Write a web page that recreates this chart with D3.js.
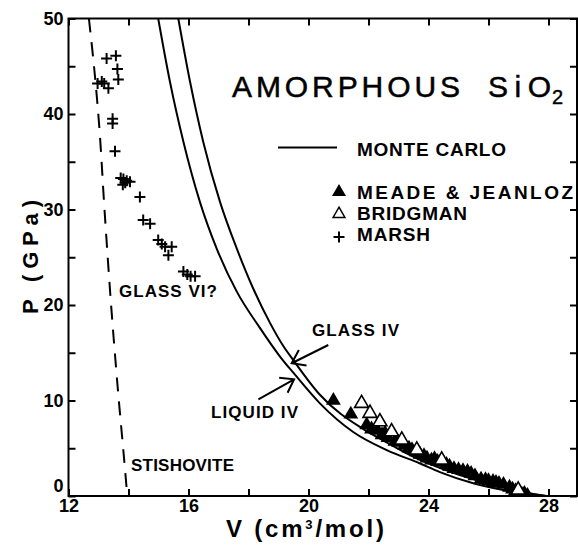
<!DOCTYPE html>
<html>
<head>
<meta charset="utf-8">
<script src="https://cdn.jsdelivr.net/npm/d3@7"></script>
<style>
  html, body { margin: 0; padding: 0; background: #fff; }
  svg { display: block; }
  text { font-family: "Liberation Sans", Arial, Helvetica, sans-serif; fill: #000; }
</style>
</head>
<body>
<svg id="chart" width="578" height="545"></svg>
<script>
// ---------------- DATA ----------------
// Monte Carlo curves (V in cm3/mol, P in GPa)
const liquidV = [14.99, 15.38, 15.83, 16.38, 16.94, 17.61, 18.38, 19.05, 19.55, 20.38, 21.49, 22.61, 23.72, 24.38, 25.49, 26.83, 27.94];
const liquidP = [50, 43.4, 37.1, 30.8, 25.9, 21.4, 17.6, 14.6, 12.7, 9.7, 6.7, 4.8, 3.4, 2.5, 1.33, 0.45, 0];
const glassV  = [15.66, 16.05, 16.49, 17.05, 17.61, 18.16, 18.72, 19.16, 19.5, 20.38, 21.83, 22.5, 23.5, 24.5, 25.5, 26.5, 27.3, 27.9];
const glassP  = [50, 43.4, 37.1, 30.8, 25.9, 21.7, 18.1, 15.7, 14.2, 10.6, 7.0, 5.8, 4.1, 2.8, 1.75, 0.95, 0.35, 0];
// Stishovite (dashed)
const stishV = [12.68, 12.85, 13.03, 13.2, 13.42, 13.65, 13.85, 13.96];
const stishP = [50, 45, 38.5, 30, 20, 11, 4, 0];
// Meade & Jeanloz (filled triangles)
const meadeV = [20.83, 21.41, 21.94, 22.1, 22.30, 22.45, 22.55, 22.65, 22.88, 23.0, 23.2, 23.35, 23.45, 23.6, 23.72, 23.85, 23.95, 24.1, 24.2, 24.3, 24.45, 24.6, 24.7, 24.85, 25.0, 25.15, 25.3, 25.42, 25.55, 25.75, 25.9, 26.0, 26.15, 26.25, 26.35, 26.5, 26.7, 26.8, 26.9, 27.05, 27.15, 27.2, 27.3];
const meadeP = [10.0, 8.55, 7.45, 7.0, 6.85, 6.4, 6.6, 6.1, 5.7, 5.6, 5.3, 5.0, 4.85, 4.6, 4.35, 4.2, 3.95, 3.75, 3.9, 3.6, 3.5, 3.3, 3.1, 2.85, 2.75, 2.65, 2.55, 2.35, 2.1, 1.75, 1.7, 1.6, 1.5, 1.4, 1.3, 1.2, 0.9, 0.7, 0.55, 0.3, 0.15, 0.25, 0.05];
// Bridgman (open triangles)
const bridgV = [21.77, 22.05, 22.38, 22.77, 23.11, 23.61, 24.44, 26.99];
const bridgP = [9.7, 8.66, 7.78, 6.73, 5.86, 4.82, 3.77, 0.63];
// Marsh (crosses)
const marshV = [13.27, 13.58, 13.63, 13.66, 12.97, 13.11, 13.19, 13.33, 13.47, 13.47, 13.55, 13.74, 13.83, 13.94, 14.05, 13.81, 13.89, 14.38, 14.49, 14.72, 14.99, 15.11, 15.22, 15.44, 15.33, 15.83, 15.96, 16.07, 16.22];
const marshP = [45.8, 46.1, 44.7, 43.6, 43.2, 43.4, 43.2, 42.7, 39.5, 39.0, 36.1, 33.3, 33.2, 33.0, 32.9, 32.6, 32.8, 31.3, 28.9, 28.5, 26.8, 26.4, 26.1, 26.1, 25.2, 23.5, 23.2, 23.0, 23.0];
// Axis ticks
const xTicks = [12, 14, 16, 18, 20, 22, 24, 26, 28];
const xTickLabels = [12, 16, 20, 24, 28];
const yTicks = [0, 5, 10, 15, 20, 25, 30, 35, 40, 45, 50];
const yTickLabels = [0, 10, 20, 30, 40, 50];
// Annotation arrows: [tailV, tailP, tipV, tipP]
const glassArrow  = [20.66, 15.81, 19.44, 13.9];
const liquidArrow = [18.33, 10.13, 19.52, 12.22];

// ---------------- LAYOUT ----------------
const svg = d3.select("#chart");
const X0 = 68.5, X1 = 577, Y0 = 496, Y1 = 18.5;
const x = d3.scaleLinear().domain([12, 28.95]).range([X0, X1]);
const y = d3.scaleLinear().domain([0, 50]).range([Y0, Y1]);

const zip = (a, b) => a.map((v, i) => [v, b[i]]);

svg.append("defs").append("clipPath").attr("id", "clip")
  .append("rect").attr("x", X0).attr("y", Y1).attr("width", X1 - X0).attr("height", Y0 - Y1);

const plot = svg.append("g").attr("clip-path", "url(#clip)");

const line = d3.line().x(d => x(d[0])).y(d => y(d[1])).curve(d3.curveMonotoneX);

// Stishovite dashed
plot.append("path").datum(zip(stishV, stishP))
  .attr("d", d3.line().x(d => x(d[0])).y(d => y(d[1])).curve(d3.curveCatmullRom))
  .attr("fill", "none").attr("stroke", "#000").attr("stroke-width", 2)
  .attr("stroke-dasharray", "14,10");

// Curves
[zip(liquidV, liquidP), zip(glassV, glassP)].forEach(pts => {
  plot.append("path").datum(pts).attr("d", line)
    .attr("fill", "none").attr("stroke", "#000").attr("stroke-width", 2);
});

// Filled triangles
const tri = d3.symbol().type(d3.symbolTriangle).size(95);
plot.selectAll(".mj").data(zip(meadeV, meadeP)).enter().append("path")
  .attr("d", tri).attr("transform", d => `translate(${x(d[0])},${y(d[1])})`)
  .attr("fill", "#000");
// Open triangles
const tri2 = d3.symbol().type(d3.symbolTriangle).size(85);
plot.selectAll(".br").data(zip(bridgV, bridgP)).enter().append("path")
  .attr("d", tri2).attr("transform", d => `translate(${x(d[0])},${y(d[1])})`)
  .attr("fill", "#fff").attr("stroke", "#000").attr("stroke-width", 1.6);
// Crosses
const cross = "M-5.5,0H5.5M0,-5.5V5.5";
plot.selectAll(".ms").data(zip(marshV, marshP)).enter().append("path")
  .attr("d", cross).attr("transform", d => `translate(${x(d[0])},${y(d[1])})`)
  .attr("fill", "none").attr("stroke", "#000").attr("stroke-width", 2);

// ---------------- AXES ----------------
const tickLen = 7;
function styleAxis(g) {
  g.select(".domain").remove();
  g.selectAll(".tick line").attr("stroke", "#000").attr("stroke-width", 2);
  g.selectAll(".tick text").attr("font-weight", "bold").attr("font-size", 18).attr("fill", "#000")
    .attr("font-family", '"Liberation Sans", Arial, sans-serif');
}
svg.append("g").attr("transform", `translate(0,${Y0})`)
  .call(d3.axisBottom(x).tickValues(xTicks).tickSizeInner(-tickLen).tickSizeOuter(0)
    .tickFormat(d => xTickLabels.includes(d) ? d : ""))
  .call(styleAxis)
  .call(g => g.selectAll(".tick text").attr("dy", null).attr("y", 16));
svg.append("g").attr("transform", `translate(0,${Y1})`)
  .call(d3.axisTop(x).tickValues(xTicks).tickSizeInner(-tickLen).tickSizeOuter(0).tickFormat(""))
  .call(styleAxis);
svg.append("g").attr("transform", `translate(${X0},0)`)
  .call(d3.axisLeft(y).tickValues(yTicks).tickSizeInner(-tickLen).tickSizeOuter(0).tickPadding(5)
    .tickFormat(d => yTickLabels.includes(d) ? d : ""))
  .call(styleAxis)
  .call(g => g.selectAll(".tick text").filter(d => d === 0).attr("dy", "-0.25em"));
svg.append("g").attr("transform", `translate(${X1},0)`)
  .call(d3.axisRight(y).tickValues(yTicks).tickSizeInner(-tickLen).tickSizeOuter(0).tickFormat(""))
  .call(styleAxis);

// Frame
svg.append("rect").attr("x", X0).attr("y", Y1).attr("width", X1 - X0).attr("height", Y0 - Y1)
  .attr("fill", "none").attr("stroke", "#000").attr("stroke-width", 2);

// Axis titles
svg.append("text").attr("transform", "translate(38,257) rotate(-90)")
  .attr("text-anchor", "middle").attr("font-weight", "bold").attr("font-size", 22)
  .attr("textLength", 114).attr("lengthAdjust", "spacing")
  .text("P (GPa)");
const xt = svg.append("text").attr("x", 226).attr("y", 537)
  .attr("font-weight", "bold").attr("font-size", 24).attr("letter-spacing", 2.8);
xt.append("tspan").text("V  (cm");
xt.append("tspan").attr("font-size", 13).attr("dy", -8).text("3");
xt.append("tspan").attr("dy", 8).text("/mol)");

// Title
const titleStyle = t => t.attr("font-size", 30).attr("stroke", "#000").attr("stroke-width", 0.5);
titleStyle(svg.append("text").attr("x", 232).attr("y", 97)
  .attr("textLength", 228).attr("lengthAdjust", "spacing").text("AMORPHOUS"));
titleStyle(svg.append("text").attr("x", 488).attr("y", 97)
  .attr("textLength", 63).attr("lengthAdjust", "spacing").text("SiO"));
svg.append("text").attr("x", 552).attr("y", 104).attr("font-size", 20)
  .attr("stroke", "#000").attr("stroke-width", 0.4).text("2");

// Legend
svg.append("line").attr("x1", 278).attr("x2", 337).attr("y1", 147.5).attr("y2", 147.5)
  .attr("stroke", "#000").attr("stroke-width", 2);
const legendText = (t, xx, yy, w) => svg.append("text").attr("x", xx).attr("y", yy)
  .attr("font-weight", "bold").attr("font-size", 19)
  .attr("textLength", w).attr("lengthAdjust", "spacing").text(t);
legendText("MONTE  CARLO", 357, 156, 149);
legendText("MEADE  &  JEANLOZ", 357, 199, 216);
legendText("BRIDGMAN", 357, 220, 110);
legendText("MARSH", 357, 241, 73);
svg.append("path").attr("d", d3.symbol().type(d3.symbolTriangle).size(85)())
  .attr("transform", "translate(339,192)").attr("fill", "#000");
svg.append("path").attr("d", d3.symbol().type(d3.symbolTriangle).size(60)())
  .attr("transform", "translate(339,214)").attr("fill", "#fff").attr("stroke", "#000").attr("stroke-width", 1.5);
svg.append("path").attr("d", cross).attr("transform", "translate(339,237)")
  .attr("stroke", "#000").attr("stroke-width", 2).attr("fill", "none");

// Annotations
const ann = (t, xx, yy, w) => svg.append("text").attr("x", xx).attr("y", yy)
  .attr("font-weight", "bold").attr("font-size", 17)
  .attr("textLength", w).attr("lengthAdjust", "spacing").text(t);
ann("GLASS  VI?", 119, 297, 98);
ann("GLASS  IV", 312, 336, 87);
ann("LIQUID  IV", 211, 418, 87);
ann("STISHOVITE", 131, 471, 103);

function arrow(a) {
  const x0 = x(a[0]), y0 = y(a[1]), x1 = x(a[2]), y1 = y(a[3]);
  const ang = Math.atan2(y0 - y1, x0 - x1), L = 15, h = 35 * Math.PI / 180;
  const p = d3.path();
  p.moveTo(x0, y0); p.lineTo(x1, y1);
  p.moveTo(x1 + L * Math.cos(ang + h), y1 + L * Math.sin(ang + h));
  p.lineTo(x1, y1);
  p.lineTo(x1 + L * Math.cos(ang - h), y1 + L * Math.sin(ang - h));
  svg.append("path").attr("d", p.toString()).attr("fill", "none")
    .attr("stroke", "#000").attr("stroke-width", 2);
}
arrow(glassArrow);
arrow(liquidArrow);
</script>
</body>
</html>
